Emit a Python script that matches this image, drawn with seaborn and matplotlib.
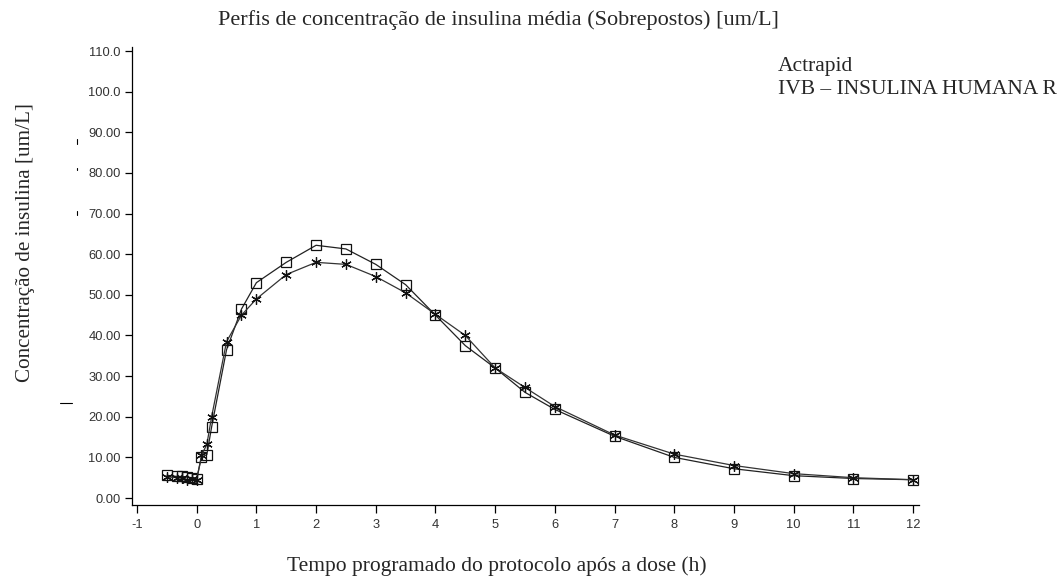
import numpy as np
import pandas as pd
import matplotlib
matplotlib.use("Agg")
import matplotlib.pyplot as plt
import seaborn as sns
from matplotlib.lines import Line2D

# ---- dados ----
tempo = [-0.5, -0.33, -0.25, -0.17, -0.08, 0, 0.08, 0.17, 0.25, 0.5, 0.75, 1,
         1.5, 2, 2.5, 3, 3.5, 4, 4.5, 5, 5.5, 6, 7, 8, 9, 10, 11, 12]
conc_quadrado = [5.6, 5.3, 5.3, 5.2, 5.0, 4.8, 10.0, 10.7, 17.5, 36.5, 46.5, 53.0,
                 58.0, 62.2, 61.3, 57.5, 52.5, 45.0, 37.5, 32.0, 26.0, 21.8, 15.2,
                 10.0, 7.2, 5.5, 4.8, 4.5]
conc_asterisco = [5.2, 5.0, 4.9, 4.5, 4.6, 4.5, 10.5, 13.2, 20.0, 38.5, 45.0, 49.0,
                  55.0, 58.0, 57.5, 54.5, 50.5, 45.2, 40.0, 32.0, 27.2, 22.5, 15.5,
                  10.8, 8.0, 6.0, 5.0, 4.5]
xticks = list(range(-1, 13))
yticks = list(range(0, 111, 10))
ytick_labels = ["0.00", "10.00", "20.00", "30.00", "40.00", "50.00", "60.00",
                "70.00", "80.00", "90.00", "100.0", "110.0"]

df = pd.DataFrame({"t": tempo, "sq": conc_quadrado, "ast": conc_asterisco})

sns.set_style("white")
plt.rcParams["font.family"] = ["Liberation Serif", "DejaVu Serif"]

W, H = 1062, 576
fig = plt.figure(figsize=(W / 100, H / 100), dpi=100)
ax = fig.add_axes([132 / W, 71 / H, 787 / W, 458 / H])

sns.lineplot(data=df, x="t", y="sq", ax=ax, sort=False, color="#222222",
             linewidth=0.9, marker="s", markersize=7.5, markerfacecolor="none",
             markeredgecolor="#111111", markeredgewidth=0.9)
sns.lineplot(data=df, x="t", y="ast", ax=ax, sort=False, color="#333333",
             linewidth=0.9, marker=(6, 2, 0), markersize=7.5,
             markeredgecolor="#111111", markeredgewidth=0.9)

ax.set_xlim(-1.084, 12.1)
ax.set_ylim(-1.72, 111.0)
ax.set_xticks(xticks)
ax.set_xticklabels([str(v) for v in xticks], family="Liberation Sans",
                   fontsize=9.3, color="#333333")
ax.set_yticks(yticks)
ax.set_yticklabels(ytick_labels, family="Liberation Sans", fontsize=9.3,
                   color="#333333")
ax.tick_params(axis="x", direction="out", length=6, width=0.9, color="black",
               pad=4, bottom=True)
ax.tick_params(axis="y", direction="out", length=5, width=0.9, color="black",
               pad=3, left=True)
for s in ["top", "right"]:
    ax.spines[s].set_visible(False)
for s in ["left", "bottom"]:
    ax.spines[s].set_color("black")
    ax.spines[s].set_linewidth(0.9)
ax.grid(False)

ax.set_xlabel("")
ax.set_ylabel("")
fig.text(498 / W, 1 - 20 / H, "Perfis de concentração de insulina média (Sobrepostos) [um/L]",
         ha="center", va="center", fontsize=16)
fig.text(497 / W, 1 - 566 / H, "Tempo programado do protocolo após a dose (h)",
         ha="center", va="center", fontsize=15.5)
fig.text(26 / W, 1 - 243 / H, "Concentração de insulina [um/L]", rotation=90,
         ha="center", va="center", fontsize=15.2)
fig.text(778 / W, 1 - 67 / H, "Actrapid", ha="left", va="center", fontsize=15.5)
fig.text(778 / W, 1 - 90 / H, "IVB \u2013 INSULINA HUMANA R", ha="left",
         va="center", fontsize=15.5)

# pequenas marcas soltas junto ao eixo y
for y0, h in [(141, 5), (169, 1.5), (213, 4)]:
    fig.add_artist(Line2D([77 / W, 77 / W], [1 - (y0 - h / 2) / H, 1 - (y0 + h / 2) / H],
                          color="black", linewidth=0.8))
fig.add_artist(Line2D([60 / W, 72 / W], [1 - 403 / H, 1 - 403 / H],
                      color="black", linewidth=0.8))

fig.savefig("out.png", dpi=100)
